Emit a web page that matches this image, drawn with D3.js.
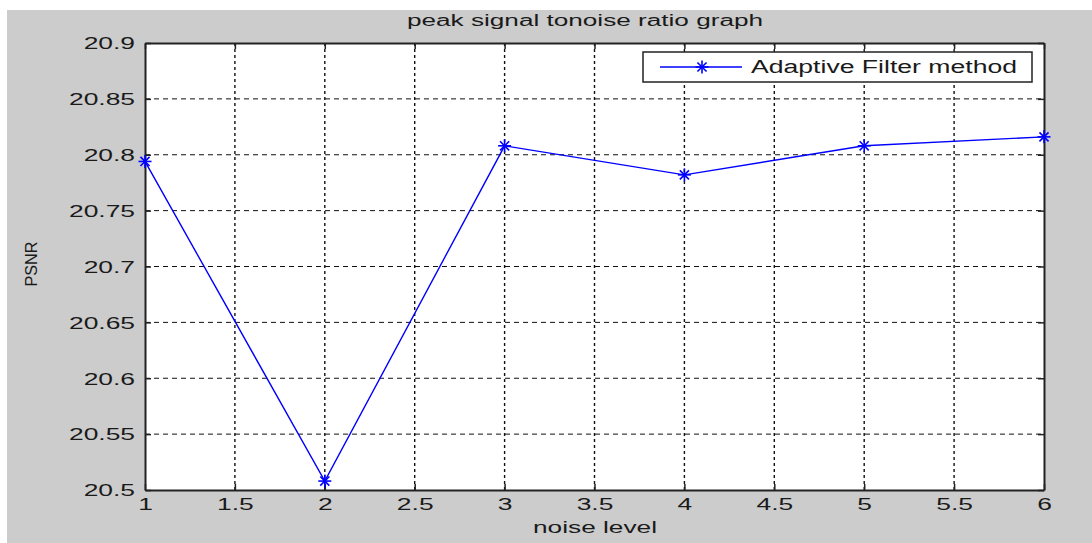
<!DOCTYPE html>
<html><head><meta charset="utf-8">
<script src="https://cdn.jsdelivr.net/npm/d3@7"></script>
<style>body{margin:0;background:#fff;} text{font-family:"Liberation Sans",Arial,sans-serif;fill:#1a1a1a;}</style>
</head><body>
<svg id="c" width="1092" height="543"></svg>
<script>
const xValues = [1, 2, 3, 4, 5, 6];
const psnr = [20.794, 20.508, 20.808, 20.782, 20.808, 20.816];
const xTicks = [1, 1.5, 2, 2.5, 3, 3.5, 4, 4.5, 5, 5.5, 6];
const yTicks = [20.5, 20.55, 20.6, 20.65, 20.7, 20.75, 20.8, 20.85, 20.9];
const seriesName = "Adaptive Filter method";
const title = "peak signal tonoise ratio graph";
const xLabel = "noise level", yLabel = "PSNR";

const SX = 1.65;
function stretch(sel, f){
  sel.each(function(){
    const w = this.getComputedTextLength();
    if (w > 0) d3.select(this).attr("textLength", w*f).attr("lengthAdjust","spacingAndGlyphs");
  });
}

const svg = d3.select("#c");
svg.append("rect").attr("x",7).attr("y",10).attr("width",1085).attr("height",533).attr("fill","#cccccc");
const L=145, R=1044, T=43, B=490;
const x = d3.scaleLinear().domain([1,6]).range([L,R]);
const y = d3.scaleLinear().domain([20.5,20.9]).range([B,T]);
svg.append("rect").attr("x",L).attr("y",T).attr("width",R-L).attr("height",B-T).attr("fill","#fff");

const g = svg.append("g");
g.selectAll(".vg").data(xTicks.slice(1,-1)).enter().append("line")
  .attr("x1",d=>x(d)).attr("x2",d=>x(d)).attr("y1",T).attr("y2",B)
  .attr("stroke","#111").attr("stroke-width",1.4).attr("stroke-dasharray","3,3");
g.selectAll(".hg").data(yTicks.slice(1,-1)).enter().append("line")
  .attr("x1",L).attr("x2",R).attr("y1",d=>y(d)).attr("y2",d=>y(d))
  .attr("stroke","#111").attr("stroke-width",1).attr("stroke-dasharray","5,4");

const fmt = d=>String(+d.toFixed(2));
const axB = svg.append("g").attr("transform",`translate(0,${B})`).call(d3.axisBottom(x).tickValues(xTicks).tickFormat(fmt).tickSizeInner(-6).tickSizeOuter(0).tickPadding(9));
const axT = svg.append("g").attr("transform",`translate(0,${T})`).call(d3.axisTop(x).tickValues(xTicks).tickFormat("").tickSizeInner(-6).tickSizeOuter(0));
const axL = svg.append("g").attr("transform",`translate(${L},0)`).call(d3.axisLeft(y).tickValues(yTicks).tickFormat(fmt).tickSizeInner(-6).tickSizeOuter(0).tickPadding(10));
const axR = svg.append("g").attr("transform",`translate(${R},0)`).call(d3.axisRight(y).tickValues(yTicks).tickFormat("").tickSizeInner(-6).tickSizeOuter(0));
[axB,axT,axL,axR].forEach(a=>{
  a.selectAll("path.domain").attr("stroke","#222").attr("stroke-width",2);
  a.selectAll(".tick line").attr("stroke","#222").attr("stroke-width",1.5);
  a.selectAll("text").style("font-size","16px").attr("fill","#1a1a1a").style("font-family","'Liberation Sans',Arial,sans-serif");
});
axL.selectAll("text").attr("dy","0.36em");
stretch(axB.selectAll("text"), SX);
stretch(axL.selectAll("text"), SX);

svg.append("path").datum(xValues.map((d,i)=>[d,psnr[i]]))
  .attr("d",d3.line().x(d=>x(d[0])).y(d=>y(d[1])))
  .attr("fill","none").attr("stroke","#0000ff").attr("stroke-width",1.4);
const star = (sel, cx, cy, r) => {
  const gs = sel.append("g").attr("transform",`translate(${cx},${cy})`);
  [[-r,0,r,0],[0,-r,0,r],[-r*0.7,-r*0.7,r*0.7,r*0.7],[-r*0.7,r*0.7,r*0.7,-r*0.7]].forEach(s=>
    gs.append("line").attr("x1",s[0]).attr("y1",s[1]).attr("x2",s[2]).attr("y2",s[3]).attr("stroke","#0000ff").attr("stroke-width",1.6));
};
xValues.forEach((d,i)=>star(svg, x(d), y(psnr[i]), 6.5));

svg.append("rect").attr("x",643).attr("y",52).attr("width",389).attr("height",30).attr("fill","#fff").attr("stroke","#222").attr("stroke-width",1.5);
svg.append("line").attr("x1",660).attr("x2",742).attr("y1",67).attr("y2",67).attr("stroke","#0000ff").attr("stroke-width",1.4);
star(svg, 702, 67, 6.5);
svg.append("text").attr("x",751).attr("y",73).style("font-size","18px").attr("textLength",266).attr("lengthAdjust","spacingAndGlyphs").text(seriesName);

svg.append("text").attr("x",585).attr("y",26).attr("text-anchor","middle").style("font-size","16px").attr("textLength",356).attr("lengthAdjust","spacingAndGlyphs").text(title);
svg.append("text").attr("x",595).attr("y",533).attr("text-anchor","middle").style("font-size","16px").attr("textLength",124).attr("lengthAdjust","spacingAndGlyphs").text(xLabel);
svg.append("text").attr("transform","translate(37,264) rotate(-90)").attr("text-anchor","middle").style("font-size","17px").attr("textLength",45).attr("lengthAdjust","spacingAndGlyphs").text(yLabel);
</script>
</body></html>
